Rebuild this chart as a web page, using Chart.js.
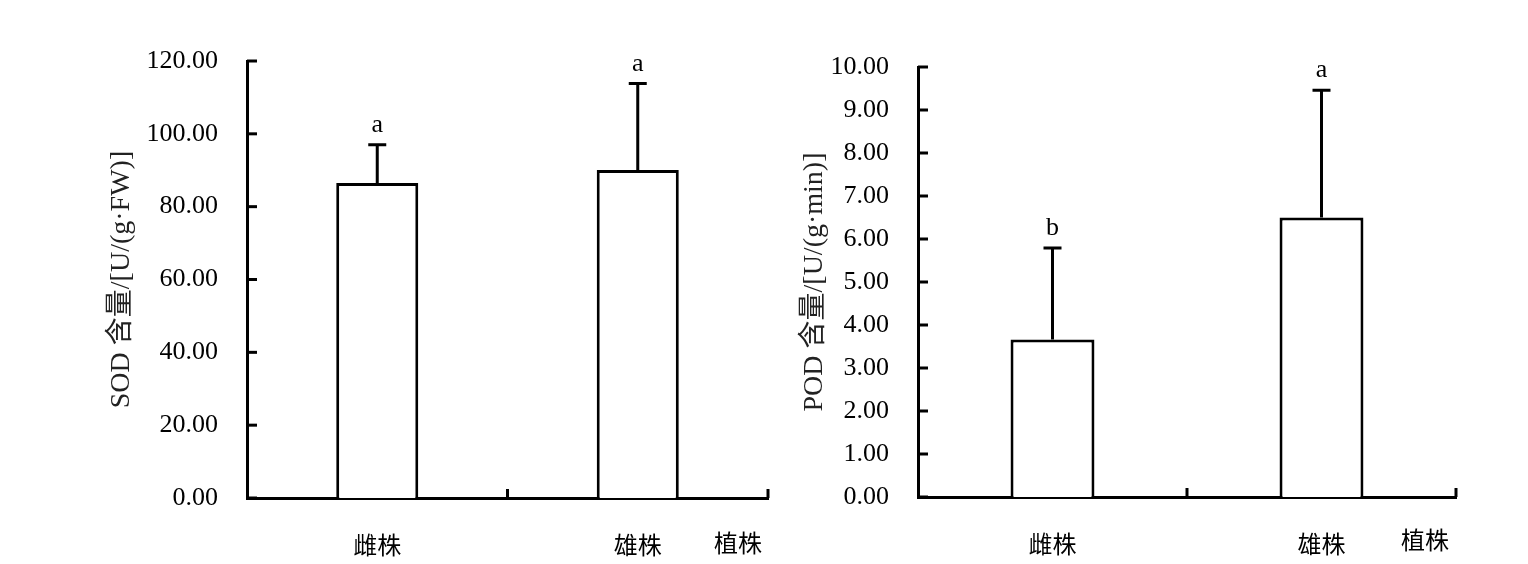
<!DOCTYPE html>
<html>
<head>
<meta charset="utf-8">
<script src="https://cdn.jsdelivr.net/npm/chart.js@4.4.1/dist/chart.umd.min.js"></script>
<style>
  body { margin: 0; background: #fff; }
  .panel { position: absolute; top: 0; }
</style>
</head>
<body>
<div class="panel" style="left:0"><canvas id="sod" width="780" height="564"></canvas></div>
<div class="panel" style="left:780px"><canvas id="pod" width="748" height="564"></canvas></div>
<script>
const categories = ['雌株', '雄株'];
const xTitle = '植株';

const sodMean = [86.5, 90.1];
const sodSd = [10.5, 23.7];
const sodSig = ['a', 'a'];

const podMean = [3.66, 6.5];
const podSd = [2.13, 2.96];
const podSig = ['b', 'a'];

const serif = "'Liberation Serif', 'Times New Roman', serif";
const cjk = "'Noto Sans CJK SC', sans-serif";
const mixed = "'Liberation Serif', 'Noto Sans CJK SC', serif";

// error bars, letters, inward ticks
const extras = {
    id: 'extras',
    afterDatasetsDraw(chart, args, opts) {
        const ctx = chart.ctx;
        const y = chart.scales.y;
        const x = chart.scales.x;
        const area = chart.chartArea;
        const meta = chart.getDatasetMeta(0);
        ctx.save();
        ctx.strokeStyle = '#000';
        ctx.lineWidth = 3;
        ctx.lineCap = 'butt';

        // y ticks pointing into the plot
        y.ticks.forEach(t => {
            const py = y.getPixelForValue(t.value);
            ctx.beginPath();
            ctx.moveTo(area.left, py);
            ctx.lineTo(area.left + 10, py);
            ctx.stroke();
        });

        // x ticks on category boundaries
        for (let i = 0; i < categories.length; i++) {
            const px = x.getPixelForValue(i + 0.5);
            ctx.beginPath();
            ctx.moveTo(px, area.bottom);
            ctx.lineTo(px, area.bottom - 9);
            ctx.stroke();
        }

        // error bars
        ctx.fillStyle = '#000';
        ctx.font = '26px ' + serif;
        ctx.textAlign = 'center';
        ctx.textBaseline = 'alphabetic';
        meta.data.forEach((bar, i) => {
            const top = y.getPixelForValue(opts.mean[i]);
            const cap = y.getPixelForValue(opts.mean[i] + opts.sd[i]);
            ctx.beginPath();
            ctx.moveTo(bar.x, top);
            ctx.lineTo(bar.x, cap);
            ctx.moveTo(bar.x - 9, cap);
            ctx.lineTo(bar.x + 9, cap);
            ctx.stroke();
            ctx.fillText(opts.sig[i], bar.x, cap - 13);
        });

        // x axis title on the label line
        ctx.font = '24px ' + cjk;
        ctx.textAlign = 'right';
        ctx.textBaseline = 'middle';
        ctx.fillText(xTitle, area.right - opts.titleRight, area.bottom + opts.titleDy);
        ctx.restore();
    }
};

function makeChart(id, mean, sd, sig, yMax, step, title, cfg) {
    return new Chart(document.getElementById(id), {
        type: 'bar',
        data: {
            labels: categories,
            datasets: [{
                data: mean,
                backgroundColor: '#fff',
                borderColor: '#000',
                borderWidth: 3,
                barPercentage: cfg.barPct,
                categoryPercentage: 1
            }]
        },
        options: {
            responsive: false,
            animation: false,
            layout: { padding: { top: cfg.top, right: cfg.right, left: 0, bottom: 0 } },
            plugins: {
                legend: { display: false },
                tooltip: { enabled: false },
                extras: { mean: mean, sd: sd, sig: sig, titleRight: cfg.titleRight, titleDy: cfg.titleDy }
            },
            scales: {
                x: {
                    grid: { display: false, drawTicks: false },
                    border: { display: true, color: '#000', width: 3 },
                    ticks: { color: '#000', padding: 32, font: { family: cjk, size: 24 } },
                    afterFit(scale) { scale.height = cfg.xh; }
                },
                y: {
                    min: 0,
                    max: yMax,
                    grid: { display: false, drawTicks: false },
                    border: { display: true, color: '#000', width: 3 },
                    ticks: {
                        stepSize: step,
                        color: '#000',
                        padding: 29,
                        font: { family: serif, size: 26 },
                        callback: v => Number(v).toFixed(2)
                    },
                    title: {
                        display: true,
                        text: title,
                        color: '#222',
                        font: { family: mixed, size: 28 },
                        padding: { top: cfg.titlePad, bottom: 0 }
                    },
                    afterFit(scale) { scale.width = cfg.yw; }
                }
            }
        },
        plugins: [extras]
    });
}

makeChart('sod', sodMean, sodSd, sodSig, 120, 20, 'SOD 含量/[U/(g·FW)]',
    { top: 61, right: 12, xh: 66, yw: 247, barPct: 0.315, titlePad: 105, titleRight: 6, titleDy: 45 });
makeChart('pod', podMean, podSd, podSig, 10, 1, 'POD 含量/[U/(g·min)]',
    { top: 67, right: 72, xh: 67, yw: 138, barPct: 0.312, titlePad: 18, titleRight: 7, titleDy: 43 });
</script>
</body>
</html>
